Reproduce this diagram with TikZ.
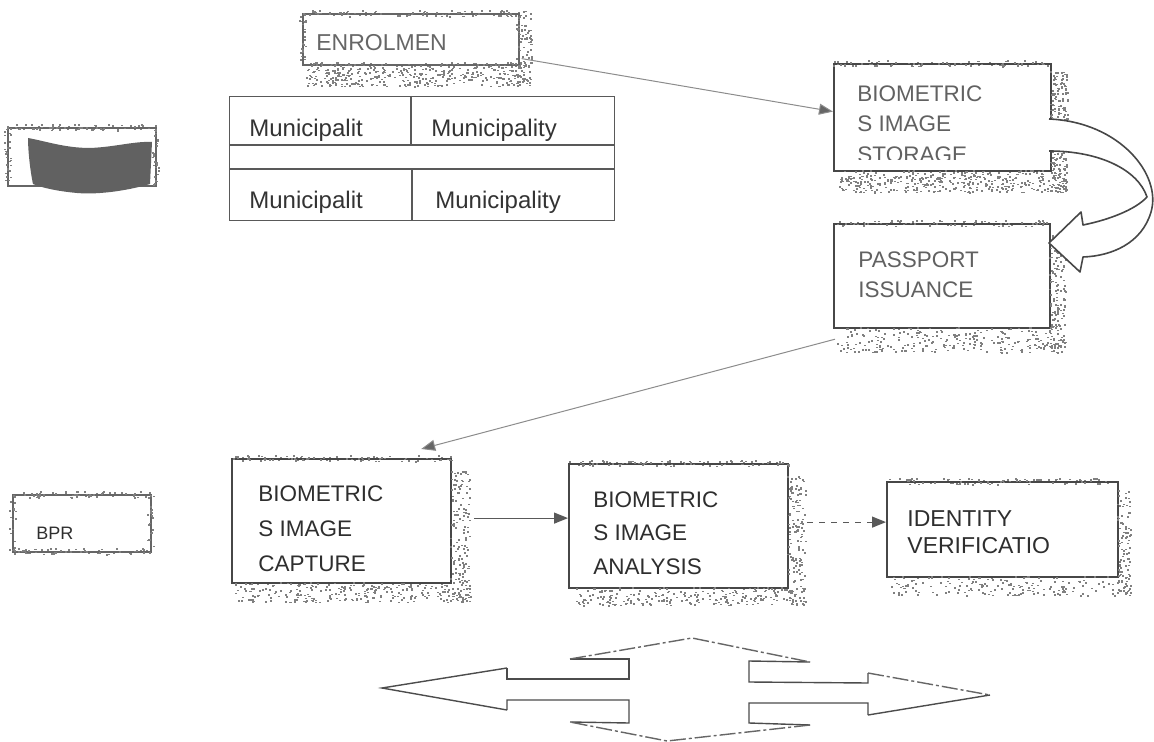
\documentclass[tikz,border=0pt]{standalone}
\usepackage{fontspec}
\setmainfont{Liberation Sans}
\usetikzlibrary{arrows.meta,calc}
\newcommand\grain[5]{%
  \foreach \k in {1,...,#5}{%
    \pgfmathsetmacro\gx{#1+rnd*(#3-#1)}%
    \pgfmathsetmacro\gy{#2+rnd*(#4-#2)}%
    \fill[black!50] (\gx,\gy) rectangle ++(2,1.6);
  }%
}
\begin{document}
\begin{tikzpicture}[x=0.5pt,y=-0.5pt,
  frame/.style={draw=black!72, line width=1.1pt, inner sep=0pt, anchor=north west},
  thinframe/.style={draw=black!60, line width=0.8pt, inner sep=0pt, anchor=north west},
  lbl/.style={anchor=west, inner sep=0pt, text=black!82, font=\fontsize{11.25pt}{13pt}\selectfont},
  lightlbl/.style={lbl, text=black!62},
  tbl/.style={anchor=west, inner sep=0pt, text=black!80, font=\fontsize{12pt}{14pt}\selectfont},
  conn/.style={draw=black!65, line width=0.6pt, -{Triangle[length=7pt,width=5.5pt]}},
  thinconn/.style={draw=black!45, line width=0.5pt, -{Triangle[length=7pt,width=5.5pt,fill=black!60]}},
  fourway/.style={draw=black!70, line width=0.7pt},
  fourdash/.style={draw=black!60, line width=0.7pt, dash pattern=on 8pt off 1.5pt on 1.5pt off 1.5pt},
  curv/.style={draw=black!72, line width=0.8pt, fill=white, line join=round}
]
\useasboundingbox (0,0) rectangle (1154,742);
\pgfmathsetseed{4242}

% ---------- dark box ----------
\node[thinframe, minimum width=74pt, minimum height=29pt] (dark) at (7,127) {};
\grain{7}{124}{155}{130}{70}
\grain{4}{127}{10}{185}{30}
\grain{152}{127}{158}{185}{25}
\fill[black!62] (28,138) .. controls (45,141) and (65,148) .. (90,148) .. controls (115,147) and (135,141) .. (152,142) -- (150,184) .. controls (130,190) and (100,195) .. (77,193) .. controls (55,191) and (40,187) .. (33,184) .. controls (30,170) and (28,150) .. cycle;

% ---------- ENROLMEN ----------
\node[thinframe, minimum width=108pt, minimum height=25.5pt] (enrol) at (302,13) {};
\grain{302}{10}{525}{16}{90}
\grain{299}{13}{305}{64}{25}
\grain{515}{13}{531}{86}{90}
\grain{305}{62}{531}{86}{420}
\node[lbl, text=black!60, font=\fontsize{11.5pt}{13pt}\selectfont] (enroltxt) at (316,43) {ENROLMEN};

% ---------- table ----------
\node[draw=black!65, line width=0.6pt, inner sep=0pt, anchor=north west, minimum width=192.5pt, minimum height=62pt] (table) at (229,96) {};
\draw[black!65, line width=0.6pt] (229,145) -- (614,145) (229,169) -- (614,169)
  (411,96) -- (411,145) (412,169) -- (412,220);
\node[tbl] (m1) at (249,130) {Municipalit};
\node[tbl] (m2) at (431,130) {Municipality};
\node[tbl] (m3) at (249,202) {Municipalit};
\node[tbl] (m4) at (435,202) {Municipality};

% ---------- storage ----------
\node[frame, minimum width=108.5pt, minimum height=53.5pt] (store) at (833,63) {};
\grain{833}{60}{1050}{66}{80}
\grain{1050}{70}{1067}{192}{220}
\grain{836}{170}{1067}{192}{400}
\node[lightlbl] (s1) at (857,94) {BIOMETRIC};
\node[lightlbl] (s2) at (857,124) {S IMAGE};
\begin{scope}
  \clip (840,130) rectangle (1045,160);
  \node[lightlbl] (s3) at (857,155) {STORAGE};
\end{scope}

% ---------- passport ----------
\node[frame, minimum width=108pt, minimum height=52pt] (pass) at (833,223) {};
\grain{833}{220}{1049}{226}{80}
\grain{1049}{235}{1065}{352}{150}
\grain{836}{327}{1065}{352}{260}
\node[lightlbl] (p1) at (858,260) {PASSPORT};
\node[lightlbl] (p2) at (858,290) {ISSUANCE};

% ---------- curved hollow arrow ----------
\draw[curv] (1049,119) .. controls (1120,122) and (1162,175) .. (1151,212)
  .. controls (1142,243) and (1112,256) .. (1083,257) -- (1080,272) -- (1049,243)
  -- (1081,212) -- (1083,225) .. controls (1108,220) and (1135,210) .. (1147,197)
  .. controls (1138,170) and (1100,151) .. (1049,151);

% ---------- BPR ----------
\node[thinframe, minimum width=69pt, minimum height=28.5pt] (bpr) at (12,494) {};
\grain{12}{491}{150}{497}{60}
\grain{12}{548}{150}{554}{60}
\grain{9}{494}{15}{551}{20}
\grain{147}{494}{153}{551}{20}
\node[lbl, font=\fontsize{9pt}{11pt}\selectfont] (bprtxt) at (36,533) {BPR};

% ---------- capture ----------
\node[frame, minimum width=109.5pt, minimum height=62pt] (cap) at (231,458) {};
\grain{231}{455}{452}{461}{90}
\grain{450}{470}{470}{602}{150}
\grain{235}{582}{470}{602}{260}
\node[lbl] (c1) at (258,494) {BIOMETRIC};
\node[lbl] (c2) at (258,529) {S IMAGE};
\node[lbl] (c3) at (258,564) {CAPTURE};

% ---------- analysis ----------
\node[frame, minimum width=109.5pt, minimum height=62pt] (ana) at (568,463) {};
\grain{568}{460}{789}{466}{90}
\grain{787}{475}{805}{605}{140}
\grain{572}{587}{805}{605}{240}
\node[lbl] (a1) at (593,500) {BIOMETRIC};
\node[lbl] (a2) at (593,533) {S IMAGE};
\node[lbl] (a3) at (593,567) {ANALYSIS};

% ---------- identity ----------
\node[frame, minimum width=115.5pt, minimum height=47.5pt] (ident) at (886,481) {};
\grain{886}{478}{1117}{484}{90}
\grain{1117}{490}{1130}{595}{100}
\grain{890}{576}{1130}{595}{180}
\node[lbl, font=\fontsize{11.5pt}{13pt}\selectfont] (i1) at (907,519) {IDENTITY};
\node[lbl, font=\fontsize{11.5pt}{13pt}\selectfont] (i2) at (907,546) {VERIFICATIO};

% ---------- connectors ----------
\draw[thinconn] ($(enrol.south east)+(2,-7)$) -- ($(store.west)+(0,-6)$);
\draw[thinconn] ($(pass.south west)+(2,10)$) -- ($(cap.north east)+(-31,-9)$);
\draw[conn] ($(cap.east)+(22,-3)$) -- ($(ana.west)+(0,-8)$);
\draw[conn, dashed] ($(ana.east)+(18,-4)$) -- ($(ident.west)+(0,-7.5)$);

% ---------- four-way arrow ----------
\draw[fourway] (507,668) -- (507,679) -- (629,679) -- (629,659) -- (570,659);
\draw[fourway] (810,662) -- (749,661) -- (749,682) -- (868,683) -- (868,673);
\draw[fourway] (868,715) -- (868,703) -- (749,703) -- (749,723) -- (810,725);
\draw[fourway] (570,722) -- (629,723) -- (629,700) -- (507,700) -- (507,710);
\draw[fourway] (507,668) -- (382,688) -- (507,710);
\draw[fourdash] (570,659) -- (692,638) -- (810,662);
\draw[fourdash] (868,673) -- (990,695);
\draw[fourway] (990,695) -- (868,715);
\draw[fourdash] (810,725) -- (667,741) -- (570,722);
\end{tikzpicture}
\end{document}
